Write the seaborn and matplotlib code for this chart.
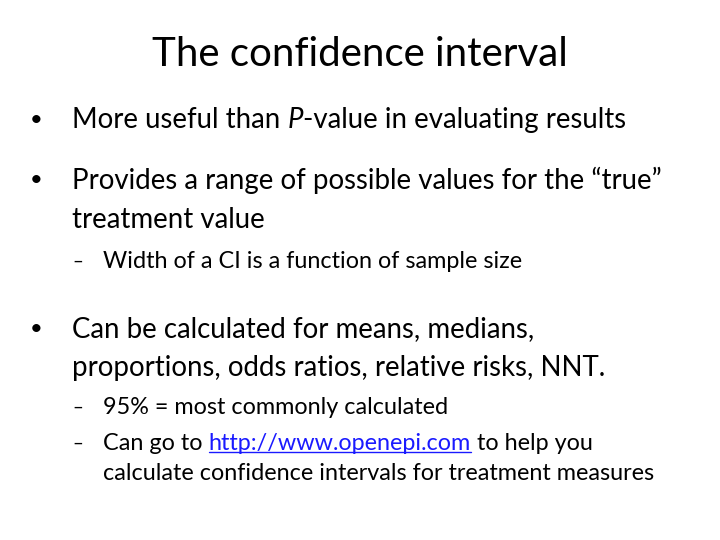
import matplotlib
matplotlib.use("Agg")
import matplotlib.pyplot as plt
import seaborn as sns

sns.set_theme(style="white")
plt.rcParams['font.family'] = ['Lato', 'DejaVu Sans']

title = "The confidence interval"

# each line: (y pixel, x pixel, marker, list of runs (text, kind), size)
lines = [
    (120, 30, "•", [("More useful than ", "n"), ("P", "i"), ("-value in evaluating results", "n")], 19.9),
    (180, 30, "•", [("Provides a range of possible values for the \u201ctrue\u201d", "n")], 19.9),
    (220, None, None, [("treatment value", "n")], 19.9),
    (261, 72, "–", [("Width of a CI is a function of sample size", "n")], 16.8),
    (329, 30, "•", [("Can be calculated for means, medians,", "n")], 19.9),
    (368, None, None, [("proportions, odds ratios, relative risks, NNT.", "n")], 19.9),
    (407, 72, "–", [("95% = most commonly calculated", "n")], 16.8),
    (443, 72, "–", [("Can go to ", "n"), ("http://www.openepi.com", "link"), (" to help you", "n")], 16.8),
    (474, None, None, [("calculate confidence intervals for treatment measures", "n")], 16.8),
]

W, H = 720, 540
fig = plt.figure(figsize=(7.2, 5.4), dpi=100)
fig.patch.set_facecolor("white")
fig.text(0.5, 1 - 55 / H, title, ha="center", va="center", fontsize=29, color="black")

fig.canvas.draw()
renderer = fig.canvas.get_renderer()

for y, mx, marker, runs, size in lines:
    yy = 1 - y / H
    big = size > 18
    tx = 72 if big else 103
    if marker:
        fig.text(mx / W, yy, marker, ha="left", va="center",
                 fontsize=size * 0.8, color="black")
    x = tx
    for txt, kind in runs:
        color = "#1a1aff" if kind == "link" else "black"
        t = fig.text(x / W, yy, txt, ha="left", va="center", fontsize=size,
                     color=color, style="italic" if kind == "i" else "normal")
        bb = t.get_window_extent(renderer)
        if kind == "link":
            uy = bb.y0 / H + 0.002
            fig.add_artist(plt.Line2D([bb.x0 / W, bb.x1 / W], [uy, uy], color=color, lw=1))
        x += bb.width

fig.savefig("out.png", dpi=100, facecolor="white")
